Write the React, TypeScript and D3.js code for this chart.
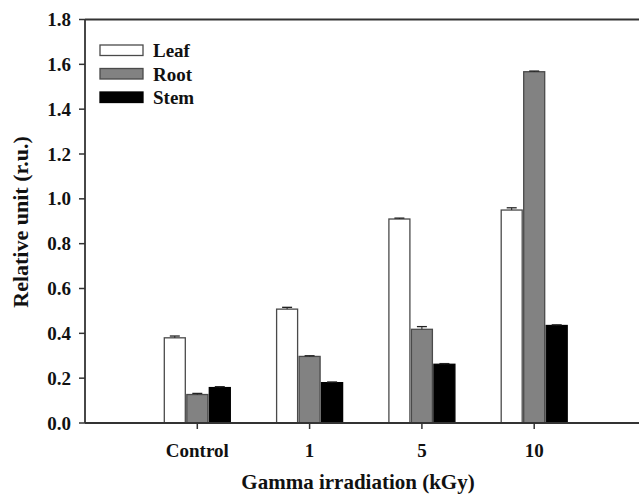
import * as d3 from 'd3';

const categories = ['Control', '1', '5', '10'];
const seriesNames = ['Leaf', 'Root', 'Stem'];
const leafValues = [0.38, 0.508, 0.91, 0.95];
const rootValues = [0.127, 0.297, 0.418, 1.567];
const stemValues = [0.158, 0.18, 0.262, 0.435];
const leafErrors = [0.008, 0.008, 0.004, 0.01];
const rootErrors = [0.005, 0.003, 0.012, 0.003];
const stemErrors = [0.004, 0.003, 0.003, 0.003];
const yTicks = [0, 0.2, 0.4, 0.6, 0.8, 1.0, 1.2, 1.4, 1.6, 1.8];

const fills = ['#ffffff', '#828282', '#000000'];
const strokes = ['#4a4a4a', '#4a4a4a', '#000000'];

const W = 639;
const H = 497;
const txt = { fontFamily: 'Liberation Serif', fontWeight: 700, fill: '#111' } as const;

export default function App() {
  const x = d3.scaleLinear().domain([-1, 4]).range([85, 646.5]);
  const y = d3.scaleLinear().domain([0, 1.8]).range([423, 19.5]);
  const barW = 21;
  const offsets = [-22.5, 0, 22.5];

  const series = [
    { values: leafValues, errors: leafErrors },
    { values: rootValues, errors: rootErrors },
    { values: stemValues, errors: stemErrors },
  ];

  return (
    <svg width={W} height={H} style={{ position: 'absolute', left: 0, top: 0, background: '#fff' }}>
      {/* bars */}
      {series.map((s, si) =>
        s.values.map((v, ci) => {
          const cx = x(ci) + offsets[si];
          return (
            <g key={`${si}-${ci}`}>
              <rect
                x={cx - barW / 2}
                y={y(v)}
                width={barW}
                height={y(0) - y(v)}
                fill={fills[si]}
                stroke={strokes[si]}
                strokeWidth={1.3}
              />
              <line x1={cx} x2={cx} y1={y(v + s.errors[ci])} y2={y(v)} stroke="#222" strokeWidth={1} />
              <line
                x1={cx - 5}
                x2={cx + 5}
                y1={y(v + s.errors[ci])}
                y2={y(v + s.errors[ci])}
                stroke="#222"
                strokeWidth={1.3}
              />
            </g>
          );
        })
      )}

      {/* axes frame */}
      <line x1={x(-1)} x2={x(4)} y1={y(0)} y2={y(0)} stroke="#333" strokeWidth={1.8} />
      <line x1={x(-1)} x2={x(4)} y1={y(1.8)} y2={y(1.8)} stroke="#333" strokeWidth={1.8} />
      <line x1={x(-1)} x2={x(-1)} y1={y(0)} y2={y(1.8)} stroke="#333" strokeWidth={1.8} />

      {/* y ticks */}
      {yTicks.map((t) => (
        <g key={t}>
          <line x1={x(-1) - 6} x2={x(-1)} y1={y(t)} y2={y(t)} stroke="#333" strokeWidth={1.5} />
          <text x={x(-1) - 14} y={y(t)} dy="0.35em" textAnchor="end" fontSize={19} style={txt}>
            {t.toFixed(1)}
          </text>
        </g>
      ))}

      {/* x ticks */}
      {categories.map((c, i) => (
        <g key={c}>
          <line x1={x(i)} x2={x(i)} y1={y(0)} y2={y(0) + 6} stroke="#333" strokeWidth={1.5} />
          <text x={x(i)} y={457} textAnchor="middle" fontSize={19} style={txt}>
            {c}
          </text>
        </g>
      ))}

      {/* axis titles */}
      <text x={358} y={489} textAnchor="middle" fontSize={21} style={txt}>
        Gamma irradiation (kGy)
      </text>
      <text transform={`translate(28,222) rotate(-90)`} textAnchor="middle" fontSize={22} style={txt}>
        Relative unit (r.u.)
      </text>

      {/* legend */}
      {seriesNames.map((n, i) => (
        <g key={n} transform={`translate(100,${45 + i * 23.5})`}>
          <rect width={43} height={10.5} fill={fills[i]} stroke={strokes[i]} strokeWidth={1.3} />
          <text x={53} y={12} fontSize={19} style={txt}>
            {n}
          </text>
        </g>
      ))}
    </svg>
  );
}
